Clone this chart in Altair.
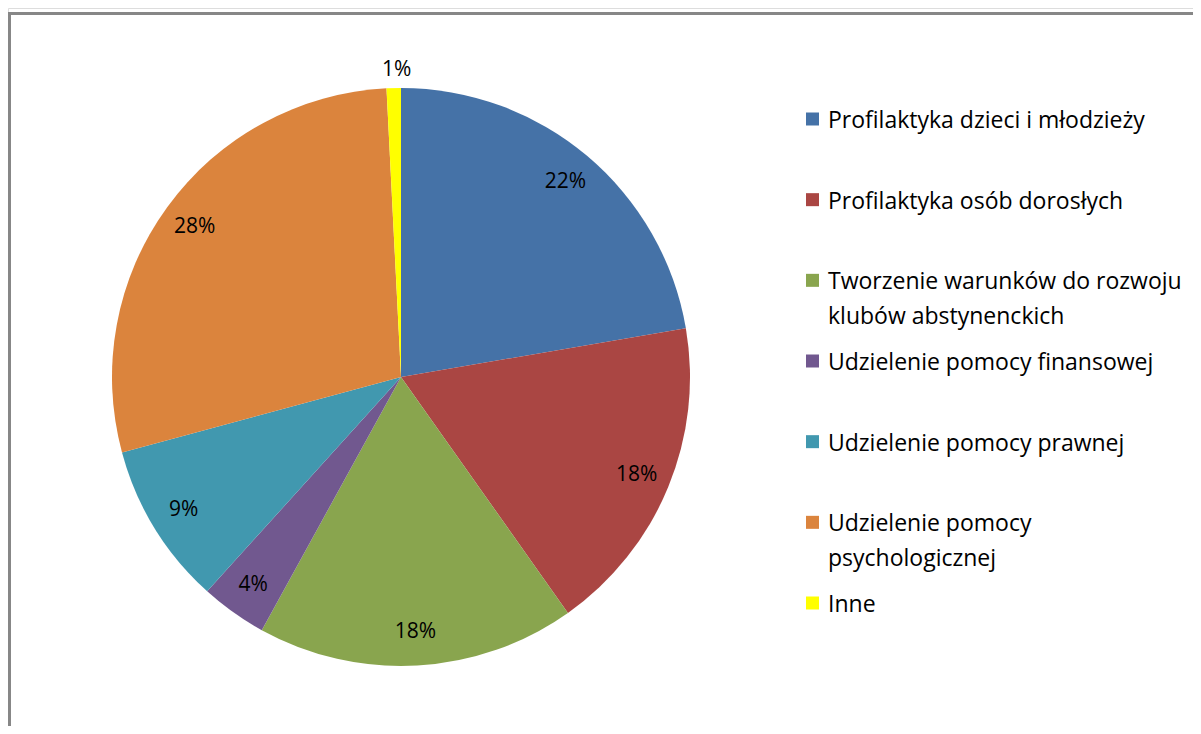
import altair as alt
import pandas as pd

categories = [
    "Profilaktyka dzieci i młodzieży",
    "Profilaktyka osób dorosłych",
    "Tworzenie warunków do rozwoju klubów abstynenckich",
    "Udzielenie pomocy finansowej",
    "Udzielenie pomocy prawnej",
    "Udzielenie pomocy psychologicznej",
    "Inne",
]
legend_labels = [
    "Profilaktyka dzieci i młodzieży",
    "Profilaktyka osób dorosłych",
    "Tworzenie warunków do rozwoju\nklubów abstynenckich",
    "Udzielenie pomocy finansowej",
    "Udzielenie pomocy prawnej",
    "Udzielenie pomocy\npsychologicznej",
    "Inne",
]
values = [22.3, 17.9, 17.8, 3.7, 9.1, 28.4, 0.8]
pct_labels = ["22%", "18%", "18%", "4%", "9%", "28%", "1%"]
colors = ["#4572A7", "#AA4643", "#89A54E", "#71588F", "#4198AF", "#DB843D", "#FFFF00"]

df = pd.DataFrame({
    "idx": list(range(len(categories))),
    "cat": categories,
    "leg": legend_labels,
    "value": values,
    "pct": pct_labels,
})

W, H = 1185, 718
CX, CY, R = 393, 369, 289
FONT = "Open Sans"

color = alt.Color("cat:N", scale=alt.Scale(domain=categories, range=colors), legend=None)

base = alt.Chart(df)

pie = base.mark_arc(radius=R, stroke=None).encode(
    theta=alt.Theta("value:Q", stack=True),
    order=alt.Order("idx:Q"),
    color=color,
    x=alt.value(CX),
    y=alt.value(CY),
)

labels = base.transform_calculate(
    lr="datum.value < 2 ? 307 : 255",
    xo="datum.value < 2 ? -12 : 0",
).mark_text(font=FONT, fontSize=21, color="#000000", align="center", baseline="middle").encode(
    theta=alt.Theta("value:Q", stack=True),
    order=alt.Order("idx:Q"),
    radius=alt.Radius("lr:Q", scale=None),
    xOffset=alt.XOffset("xo:Q", scale=None),
    text="pct:N",
    x=alt.value(CX),
    y=alt.value(CY),
)

ly = alt.Y("cat:N", sort=categories, scale=alt.Scale(type="point", range=[111, 595], padding=0), axis=None)

leg_sq = base.mark_square(size=169, opacity=1).encode(
    x=alt.value(804.5),
    y=ly,
    color=color,
)

leg_tx = base.mark_text(
    font=FONT, fontSize=23, color="#000000", align="left", baseline="alphabetic",
    dy=9, lineBreak="\n", lineHeight=35,
).encode(
    x=alt.value(820),
    y=ly,
    text="leg:N",
)

frame_left = base.mark_rule(color="#878787", strokeWidth=3).encode(
    x=alt.value(1.5), y=alt.value(4), y2=alt.value(H + 20)
)
frame_top = base.mark_rule(color="#878787", strokeWidth=3).encode(
    x=alt.value(0), x2=alt.value(W + 20), y=alt.value(5.5)
)

chart = alt.layer(pie, labels, leg_sq, leg_tx, frame_left, frame_top).properties(
    width=W, height=H, autosize=alt.AutoSizeParams(type="none"), padding=0,
).configure_view(stroke=None).configure(background="#ffffff")

chart.save("out.html", embed_options={"renderer": "svg", "actions": False})
